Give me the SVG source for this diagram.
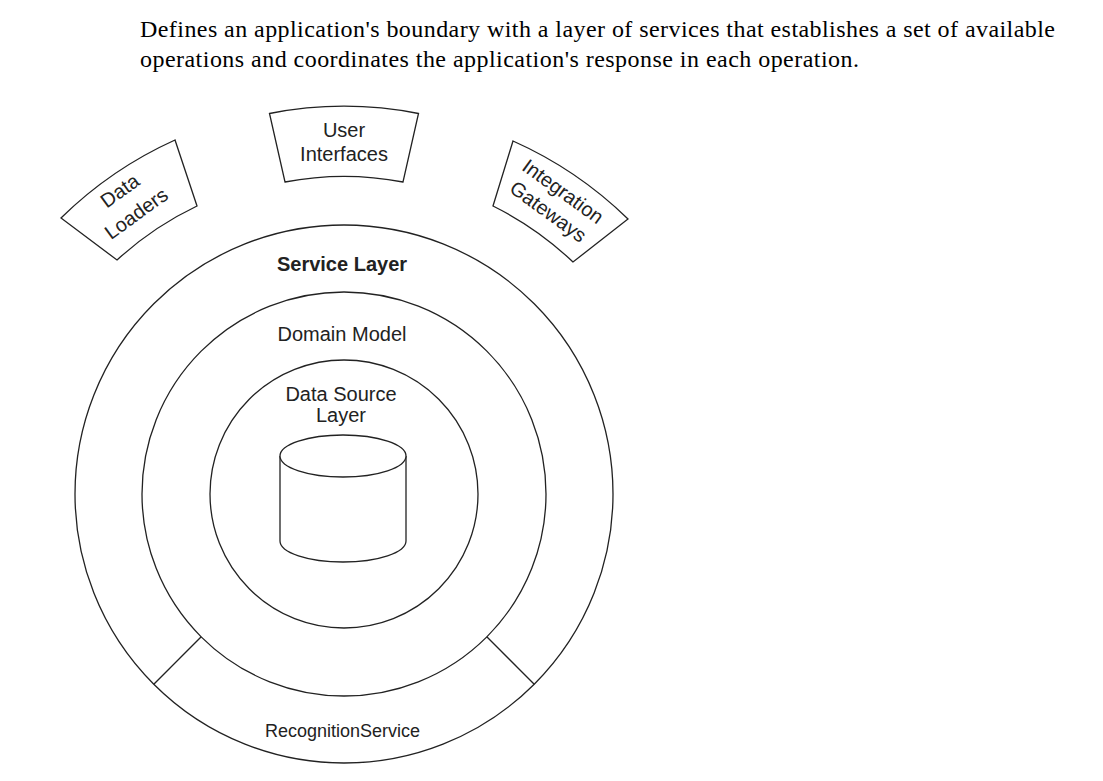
<svg xmlns="http://www.w3.org/2000/svg" width="1103" height="781" viewBox="0 0 1103 781">
<style>
.ln{fill:none;stroke:#222;stroke-width:1.3}
.sh{fill:#fff;stroke:#222;stroke-width:1.3}
.t{font-family:"Liberation Sans",Arial,sans-serif;font-size:20px;fill:#222;text-anchor:middle}
.b{font-weight:bold}
.title{font-family:"Liberation Serif","Times New Roman",serif;font-size:24px;fill:#000}
</style>
<rect width="1103" height="781" fill="#fff"/>
<g id="title">
<text class="title" x="140" y="37" textLength="915" lengthAdjust="spacing">Defines an application's boundary with a layer of services that establishes a set of available</text>
<text class="title" x="140" y="67" textLength="719" lengthAdjust="spacing">operations and coordinates the application's response in each operation.</text>
</g>
<g id="service-layer">
<circle class="ln" cx="344" cy="494" r="269"/>
<text class="t b" x="342" y="271">Service Layer</text>
</g>
<g id="recognition-service">
<text class="t" x="342.5" y="737" style="font-size:18px">RecognitionService</text>
</g>
<g id="domain-model">
<circle class="ln" cx="344" cy="494" r="202"/>
<text class="t" x="342" y="341">Domain Model</text>
</g>
<g id="data-source-layer">
<circle class="ln" cx="344" cy="494" r="134"/>
<text class="t" x="341" y="401">Data Source</text>
<text class="t" x="341" y="422">Layer</text>
</g>
<g id="database">
<path class="sh" d="M280,456 L280,541 A63,21 0 0 0 406,541 L406,456"/>
<ellipse class="sh" cx="343" cy="456" rx="63" ry="21"/>
</g>
<g id="dividers">
<line class="ln" x1="201.2" y1="636.8" x2="153.8" y2="684.2"/>
<line class="ln" x1="486.8" y1="636.8" x2="534.2" y2="684.2"/>
</g>
<g id="user-interfaces">
<path class="sh" d="M269.5,113.5 A387.7,387.7 0 0 1 418.5,113.5 L403,182 A317.5,317.5 0 0 0 285,182 Z"/>
<text class="t" x="344" y="137">User</text>
<text class="t" x="344" y="161">Interfaces</text>
</g>
<g id="data-loaders">
<path class="sh" d="M61,218 A394,394 0 0 1 175,140 L197,206 A325,325 0 0 0 117,260 Z"/>
<g transform="translate(128,202) rotate(-36)">
<text class="t" x="0" y="-7">Data</text>
<text class="t" x="0" y="21">Loaders</text>
</g>
</g>
<g id="integration-gateways">
<path class="sh" d="M513,141 A394,394 0 0 1 628,219 L573,262 A325,325 0 0 0 493,206 Z"/>
<g transform="translate(556,201) rotate(36)">
<text class="t" x="0" y="-5">Integration</text>
<text class="t" x="0" y="20">Gateways</text>
</g>
</g>
</svg>
